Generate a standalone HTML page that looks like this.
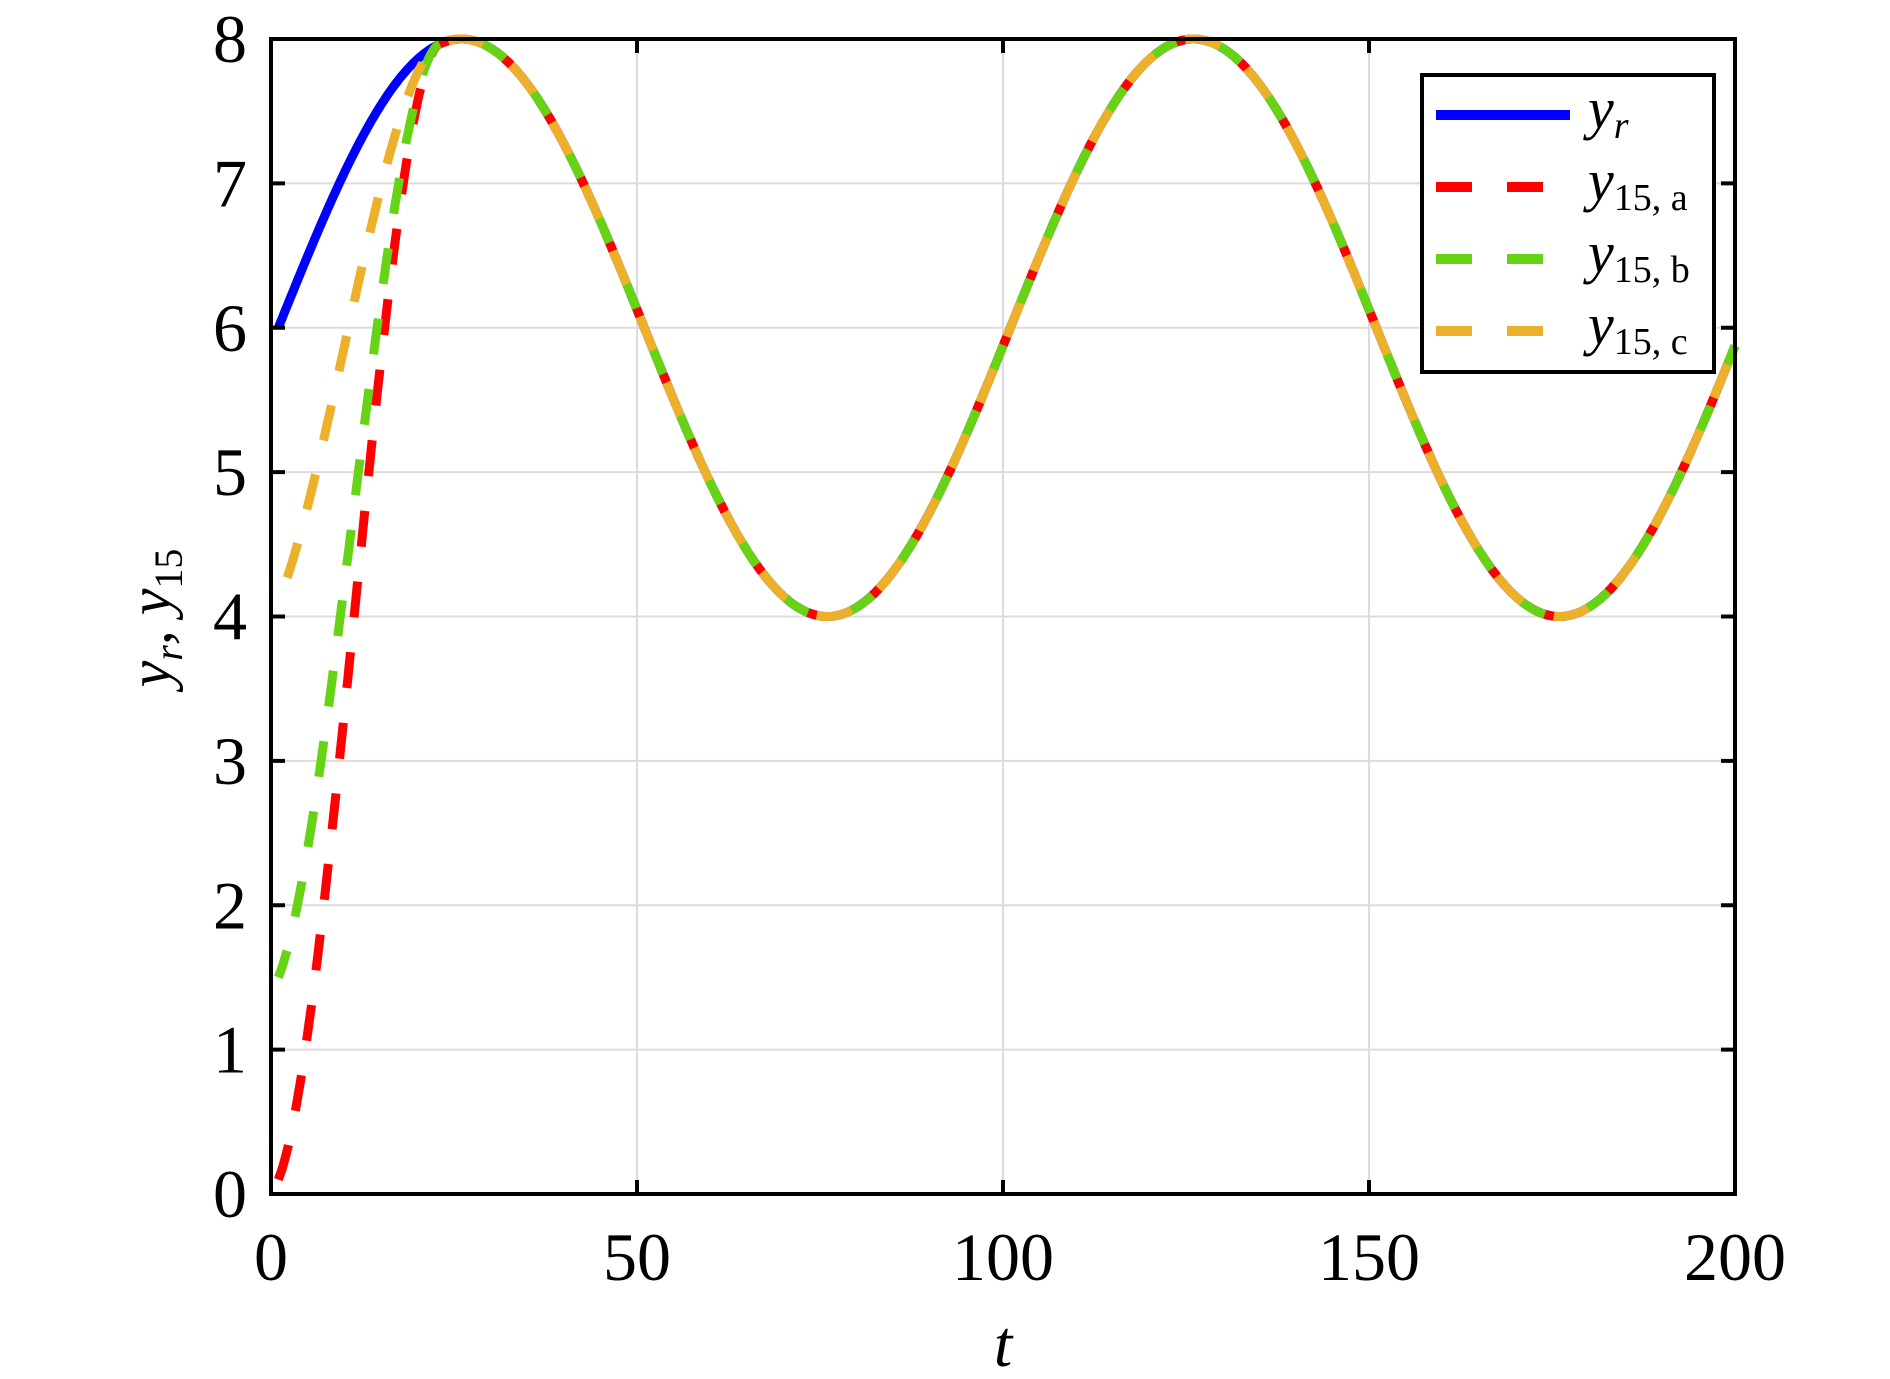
<!DOCTYPE html>
<html><head><meta charset="utf-8"><style>
html,body{margin:0;padding:0;background:#fff;}
svg{display:block;}
text{font-family:"Liberation Serif",serif;fill:#000;}
</style></head><body>
<svg id="s" width="1890" height="1379" viewBox="0 0 1890 1379" xmlns="http://www.w3.org/2000/svg">
<g id="grid" stroke="#dcdcdc" stroke-width="2"></g>
<g id="curves" fill="none" stroke-width="9"></g>
<rect x="271" y="39" width="1464" height="1155" fill="none" stroke="#000" stroke-width="4"/>
<g id="ticks" stroke="#000" stroke-width="4"></g>
<g id="labels" font-size="68"></g>
<text x="1003" y="1366" font-size="66" font-style="italic" text-anchor="middle">t</text>
<text transform="translate(170,618) rotate(-90)" font-size="60" font-style="italic" text-anchor="middle">y<tspan font-size="40" font-style="italic" dy="12">r</tspan><tspan dy="-12">,  y</tspan><tspan font-size="40" font-style="normal" dy="12">15</tspan></text>
<rect x="1422" y="75" width="292" height="297" fill="#fff" stroke="#000" stroke-width="4"/>
<line x1="1436" y1="115" x2="1570" y2="115" stroke="#0000ff" stroke-width="10"/>
<line x1="1436" y1="187" x2="1545" y2="187" stroke="#ff0000" stroke-width="10" stroke-dasharray="36 35"/>
<line x1="1436" y1="259" x2="1545" y2="259" stroke="#66d414" stroke-width="10" stroke-dasharray="36 35"/>
<line x1="1436" y1="331" x2="1545" y2="331" stroke="#ecb02a" stroke-width="10" stroke-dasharray="36 35"/>
<text x="1588" y="128" font-size="58" font-style="italic">y<tspan font-size="38" dy="10">r</tspan></text>
<text x="1588" y="200" font-size="58" font-style="italic">y<tspan font-size="38" font-style="normal" dy="10">15, a</tspan></text>
<text x="1588" y="272" font-size="58" font-style="italic">y<tspan font-size="38" font-style="normal" dy="10">15, b</tspan></text>
<text x="1588" y="344" font-size="58" font-style="italic">y<tspan font-size="38" font-style="normal" dy="10">15, c</tspan></text>
</svg>
<script>
var L=271,R=1735,T=39,B=1194;
function X(t){return L+(R-L)*t/200;}
function Y(v){return B-(B-T)*v/8;}
var NS="http://www.w3.org/2000/svg";
function el(p,tag,a){var e=document.createElementNS(NS,tag);for(var k in a)e.setAttribute(k,a[k]);p.appendChild(e);return e;}
var g=document.getElementById('grid'),tk=document.getElementById('ticks'),lb=document.getElementById('labels');
for(var i=0;i<=4;i++){var x=X(i*50);
 if(i>0&&i<4)el(g,'line',{x1:x,y1:T,x2:x,y2:B});
 el(tk,'line',{x1:x,y1:B,x2:x,y2:B-14});el(tk,'line',{x1:x,y1:T,x2:x,y2:T+14});
 var t=el(lb,'text',{x:x,y:1280,'text-anchor':'middle'});t.textContent=String(i*50);}
for(var j=0;j<=8;j++){var y=Y(j);
 if(j>0&&j<8)el(g,'line',{x1:L,y1:y,x2:R,y2:y});
 el(tk,'line',{x1:L,y1:y,x2:L+14,y2:y});el(tk,'line',{x1:R,y1:y,x2:R-14,y2:y});
 var t=el(lb,'text',{x:247,y:y+23,'text-anchor':'end'});t.textContent=String(j);}
function yr(t){return 6+2*Math.sin(2*Math.PI*(t-1)/100);}
var t0=1;
function conv(y0,Tc){return function(t){if(t>=Tc)return yr(t);var s=(t-t0)/(Tc-t0);var f=(1-s)*(1-s)*(1+2*s);return yr(t)-(yr(t0)-y0)*f;};}
function path(f){var d='';for(var t=t0;t<=200.001;t+=0.25){d+=(t==t0?'M':'L')+X(t).toFixed(1)+','+Y(f(t)).toFixed(1);}return d;}
var c=document.getElementById('curves');
el(c,'path',{d:path(yr),stroke:'#0000ff'});
el(c,'path',{d:path(conv(0.1,23)),stroke:'#ff0000','stroke-dasharray':'36 35'});
el(c,'path',{d:path(conv(1.5,23)),stroke:'#66d414','stroke-dasharray':'36 35','stroke-dashoffset':'8'});
el(c,'path',{d:path(conv(4.1,23)),stroke:'#ecb02a','stroke-dasharray':'36 35','stroke-dashoffset':'45'});
</script>
</body></html>
